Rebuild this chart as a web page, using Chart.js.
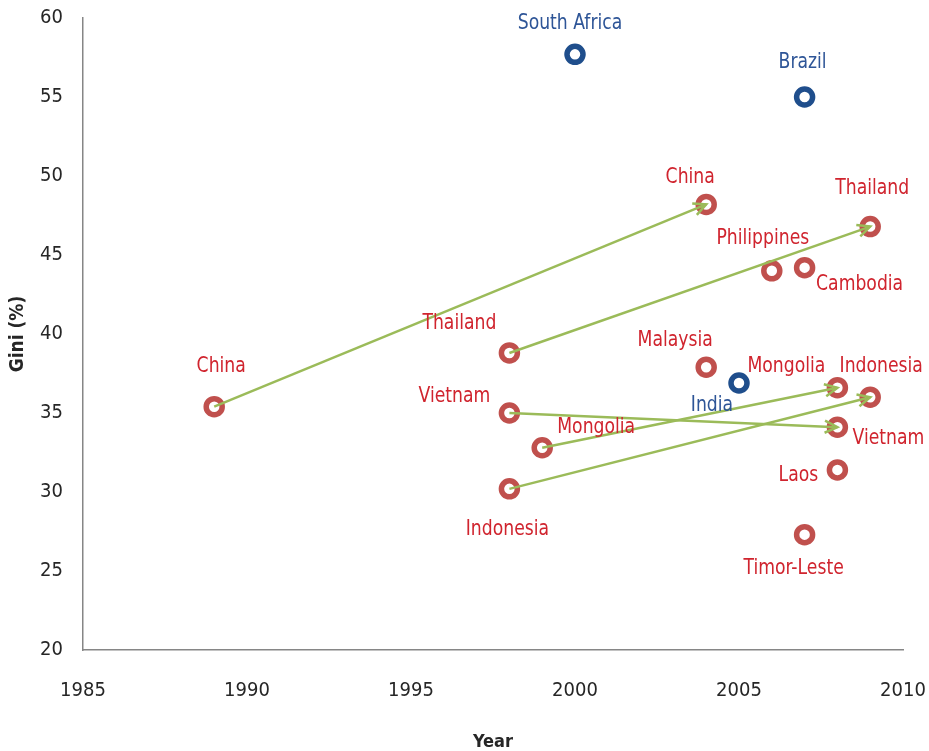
<!DOCTYPE html>
<html>
<head>
<meta charset="utf-8">
<script src="https://cdn.jsdelivr.net/npm/chart.js@4.4.1/dist/chart.umd.min.js"></script>
<style>
  body { margin: 0; background: #fff; }
  #wrap { width: 929px; height: 751px; position: relative; }
</style>
</head>
<body>
<div id="wrap"><canvas id="myChart"></canvas></div>
<script>
// DADOS
const asiaNames = ['China', 'China', 'Thailand', 'Thailand', 'Philippines', 'Cambodia', 'Malaysia', 'Mongolia', 'Mongolia', 'Indonesia', 'Indonesia', 'Vietnam', 'Vietnam', 'Laos', 'Timor-Leste'];
const asiaYears = [1989, 2004, 1998, 2009, 2006, 2007, 2004, 1999, 2008, 1998, 2009, 1998, 2008, 2008, 2007];
const asiaGini = [35.4, 48.2, 38.8, 46.8, 44.0, 44.2, 37.9, 32.8, 36.6, 30.2, 36.0, 35.0, 34.1, 31.4, 27.3];

const otherNames = ['South Africa', 'Brazil', 'India'];
const otherYears = [2000, 2007, 2005];
const otherGini = [57.7, 55.0, 36.9];

// setas: pais, ano inicial, ano final
const arrowCountry = ['China', 'Thailand', 'Vietnam', 'Mongolia', 'Indonesia'];
const arrowFrom = [1989, 1998, 1998, 1999, 1998];
const arrowTo = [2004, 2009, 2008, 2008, 2009];

const xTicks = [1985, 1990, 1995, 2000, 2005, 2010];
const yTicks = [20, 25, 30, 35, 40, 45, 50, 55, 60];

// posicao dos rotulos (px em relacao ao ponto) - so estilo
const asiaLabelOffset = [[7, -40], [-16, -27], [-50, -30], [2, -38], [-9, -33], [55, 17], [-31, -27], [54, -20], [-51, -21], [-2, 40], [11, -31], [-55, -17], [51, 11], [-39, 5], [-11, 34]];
const otherLabelOffset = [[-5, -31], [-2, -35], [-27, 22]];

const FONT = "'Liberation Sans Narrow', 'DejaVu Sans Condensed', 'Noto Sans', sans-serif";
const RED = '#C0504D';
const BLUE = '#1F4E8C';
const GREEN = '#9BBB59';

function giniOf(country, year) {
    for (let i = 0; i < asiaNames.length; i++) {
        if (asiaNames[i] === country && asiaYears[i] === year) return asiaGini[i];
    }
    return null;
}

const arrowSets = arrowCountry.map((c, i) => ({
    type: 'line',
    label: 'arrow-' + c,
    data: [
        { x: arrowFrom[i], y: giniOf(c, arrowFrom[i]) },
        { x: arrowTo[i], y: giniOf(c, arrowTo[i]) }
    ],
    borderColor: GREEN,
    borderWidth: 2.5,
    pointRadius: 0,
    fill: false,
    isArrow: true
}));

const asiaSet = {
    label: 'Asia',
    data: asiaYears.map((y, i) => ({ x: y, y: asiaGini[i] })),
    pointRadius: 8,
    pointBorderWidth: 5.5,
    pointBackgroundColor: 'rgba(255,255,255,0)',
    pointBorderColor: RED,
    names: asiaNames,
    offsets: asiaLabelOffset,
    textColor: '#D0242E'
};

const otherSet = {
    label: 'Other',
    data: otherYears.map((y, i) => ({ x: y, y: otherGini[i] })),
    pointRadius: 8,
    pointBorderWidth: 5.5,
    pointBackgroundColor: 'rgba(255,255,255,0)',
    pointBorderColor: BLUE,
    names: otherNames,
    offsets: otherLabelOffset,
    textColor: '#2E5597'
};

// ponta das setas + rotulos
const extras = {
    id: 'extras',
    afterDatasetsDraw(chart) {
        const ctx = chart.ctx;
        chart.data.datasets.forEach((ds, di) => {
            const meta = chart.getDatasetMeta(di);
            if (ds.isArrow) {
                const p0 = meta.data[0], p1 = meta.data[1];
                const ang = Math.atan2(p1.y - p0.y, p1.x - p0.x);
                const len = 14;
                ctx.save();
                ctx.strokeStyle = GREEN;
                ctx.lineWidth = 2.5;
                ctx.beginPath();
                ctx.moveTo(p1.x - len * Math.cos(ang - 0.45), p1.y - len * Math.sin(ang - 0.45));
                ctx.lineTo(p1.x, p1.y);
                ctx.lineTo(p1.x - len * Math.cos(ang + 0.45), p1.y - len * Math.sin(ang + 0.45));
                ctx.stroke();
                ctx.restore();
            } else if (ds.names) {
                ctx.save();
                ctx.font = '22px ' + FONT;
                ctx.fillStyle = ds.textColor;
                ctx.textAlign = 'center';
                ctx.textBaseline = 'middle';
                meta.data.forEach((pt, i) => {
                    const off = ds.offsets[i];
                    // letra um pouco estreita, como no original
                    ctx.save();
                    ctx.translate(pt.x + off[0], pt.y + off[1]);
                    ctx.scale(0.87, 1);
                    ctx.fillText(ds.names[i], 0, 0);
                    ctx.restore();
                });
                ctx.restore();
            }
        });
    }
};

const ctx = document.getElementById('myChart');

new Chart(ctx, {
    type: 'scatter',
    data: {
        datasets: [...arrowSets, asiaSet, otherSet]
    },
    options: {
        responsive: true,
        maintainAspectRatio: false,
        animation: false,
        layout: {
            padding: { top: 18, right: 26, bottom: 0, left: 0 }
        },
        plugins: {
            legend: { display: false },
            tooltip: { enabled: false }
        },
        scales: {
            x: {
                type: 'linear',
                min: xTicks[0],
                max: xTicks[xTicks.length - 1],
                afterBuildTicks: (s) => { s.ticks = xTicks.map(v => ({ value: v })); },
                afterFit: (s) => { s.height = 101; s.paddingLeft = 0; s.paddingRight = 0; },
                grid: { display: false, drawTicks: false },
                border: { display: true, color: '#868686', width: 1.5 },
                ticks: {
                    padding: 29,
                    color: '#262626',
                    font: { family: FONT, size: 20 },
                    callback: (v) => String(v)
                },
                title: {
                    display: true,
                    text: 'Year',
                    color: '#262626',
                    font: { family: FONT, size: 18, weight: 'bold' },
                    padding: { top: 0, bottom: -2 }
                }
            },
            y: {
                min: yTicks[0],
                max: yTicks[yTicks.length - 1],
                afterBuildTicks: (s) => { s.ticks = yTicks.map(v => ({ value: v })); },
                afterFit: (s) => { s.width = 83; s.paddingTop = 0; s.paddingBottom = 0; },
                grid: { display: false, drawTicks: false },
                border: { display: true, color: '#868686', width: 1.5 },
                ticks: {
                    padding: 20,
                    color: '#262626',
                    font: { family: FONT, size: 20 }
                },
                title: {
                    display: true,
                    text: 'Gini (%)',
                    color: '#262626',
                    font: { family: FONT, size: 19, weight: 'bold' },
                    padding: { top: 7, bottom: 0 }
                }
            }
        }
    },
    plugins: [extras]
});
</script>
</body>
</html>
